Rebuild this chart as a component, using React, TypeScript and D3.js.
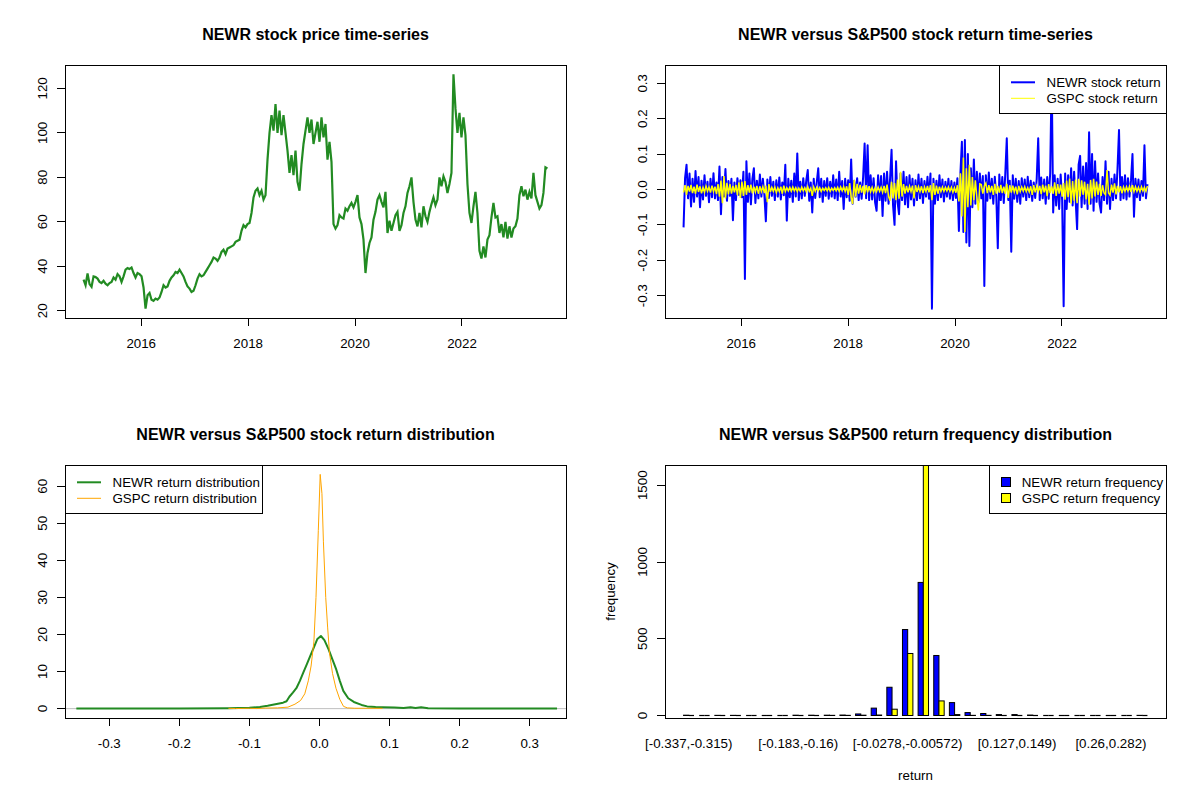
import React, { useRef, useEffect } from 'react';
import * as d3 from 'd3';

const FONT = '"Liberation Sans", Arial, Helvetica, sans-serif';
const PANEL_W = 600;
const PANEL_H = 400;
const box = { left: 65, right: 566, top: 65, bottom: 318 };

// first and last trading day of the daily series
const seriesStart = new Date(2014, 11, 3);
const seriesEnd = new Date(2023, 7, 8);
const yearTicks = [2016, 2018, 2020, 2022];

// NEWR closing price, every 2 px
const newrPrice = [
  34.0, 31.5, 36.8, 32.0, 30.8, 35.5, 35.2, 34.5, 33.0, 32.5,
  33.5, 32.2, 31.5, 32.5, 33.0, 35.0, 34.0, 36.5, 35.5, 33.0,
  35.5, 38.5, 39.2, 38.8, 39.5, 37.0, 35.0, 37.0, 36.5, 35.5,
  30.5, 21.0, 27.0, 28.0, 25.0, 24.5, 25.5, 25.0, 26.0, 28.5,
  31.5, 30.5, 31.0, 33.5, 35.0, 36.0, 37.5, 37.0, 38.5, 37.0,
  35.5, 33.0, 31.0, 30.0, 28.5, 29.0, 31.5, 34.5, 36.5, 35.5,
  36.0, 37.5, 39.0, 40.5, 42.0, 44.0, 43.5, 42.5, 44.0, 46.5,
  47.5, 45.5, 48.0, 48.5, 49.0, 49.5, 51.0, 51.5, 52.0, 56.0,
  58.5, 57.5, 59.0, 59.5, 64.0, 71.0, 74.0, 75.0, 72.0, 74.0,
  70.0, 72.0, 88.0, 100.0, 108.0, 101.0, 113.0, 100.0, 110.0, 99.0,
  108.0, 100.0, 92.0, 82.0, 90.0, 81.0, 92.0, 78.0, 74.0, 86.0,
  95.0, 101.0, 107.0, 100.0, 106.0, 95.0, 100.0,
  105.0, 96.0, 107.0, 98.0, 104.0, 88.0, 96.0, 87.0, 59.0, 57.0,
  58.5, 63.0, 62.0, 61.5, 66.0, 65.0, 67.0, 68.5, 66.5, 69.0,
  72.0, 62.0, 59.0, 52.0, 37.0, 46.0, 50.5, 53.0, 61.0, 64.5,
  70.0, 72.0, 69.0, 66.5, 73.5, 55.0, 60.5, 56.0, 59.5, 63.0,
  64.5, 56.0, 58.5, 64.0, 67.0, 73.0, 76.0, 80.0, 69.0, 61.0,
  58.0, 64.0, 57.5, 67.0, 62.5, 60.0, 64.5, 68.0, 71.0, 67.5,
  70.0, 80.0, 76.0, 80.5, 78.0, 73.0, 77.0, 82.0, 126.3, 111.0,
  100.0, 109.0, 98.0, 107.0, 99.0, 77.0, 64.0, 59.5, 67.0, 73.5,
  64.0, 47.0, 43.5, 49.0, 44.0, 52.0, 54.0, 62.0, 68.5, 62.0,
  62.5, 55.0, 59.0, 53.0, 60.0, 52.5, 58.0, 53.0, 57.0, 58.0,
  61.5, 72.0, 76.0, 71.5, 74.5, 70.0, 73.5, 70.5, 82.0, 72.0,
  69.0, 66.0, 67.5, 73.0, 84.5, 84.0,
];

// daily returns in percent, every 1.5 px
const newrReturnPct = [
  -10.7, 3.2, 7.0, -2.5, 4.5, -4.8, 3.0, -3.5, 5.2, -2.0,
  3.5, -5.0, 2.5, -2.8, 4.0, -1.8, 2.2, -3.6, 3.0, -2.2,
  4.6, -2.5, 2.0, -3.0, 6.5, -7.0, 3.5, -2.0, 5.8, -3.2,
  2.4, -1.8, 3.0, -8.7, 2.0, -3.0, 3.2, -1.5, 2.6, -2.2,
  5.0, -25.3, 8.0, -3.5, 4.5, -4.2, 3.0, 6.0, -3.8, 2.5,
  -2.5, 4.2, -2.0, 3.0, -1.5, -9.0, 2.8, -2.4, 3.5, -1.8,
  2.2, -3.0, 2.6, -2.0, 3.4, -2.8, 2.0, -1.6, 7.0, -8.8,
  3.0, -2.2, 2.5, -3.5, 4.5, -2.0, 10.2, -3.0, 2.2, -2.5,
  3.2, -1.8, 2.6, 5.5, -3.2, 2.0, -6.5, 3.0, -2.4, 2.0,
  6.0, -2.2, 3.0, -3.5, 2.4, -1.8, 3.2, -2.6, 2.2, -2.0,
  4.0, -2.5, 2.8, -3.0, 5.0, -2.0, 2.4, -5.5, 3.0, -2.2,
  2.6, -3.2, 8.5, -4.0, 2.5, -2.0, 3.2, -3.0, 2.0, -2.6,
  3.5, 13.0, -2.5, 12.5, -3.0, 4.0, -2.8, 3.2, -3.6, -6.0,
  4.0, -3.0, 3.8, -7.5, 4.5, -3.2, 5.0, -4.0, 3.0, 11.2,
  -4.5, -10.0, 8.0, -3.5, -7.0, 4.5, -3.0, 5.0, -4.2, 3.5,
  -5.0, 4.0, -2.8, 3.0, -4.5, 2.6, -3.0, 4.2, -2.5, 3.0,
  -3.8, 2.4, -2.0, 3.6, -2.6, 4.5, -33.67, 3.0, -4.0, 2.5,
  -3.0, 4.0, -2.2, 2.8, -3.4, 2.2, -2.0, 3.0, -2.6, 2.4,
  -3.0, 2.0, -2.4, 3.2, -11.7, 4.5, 13.5, -12.0, 14.0, -15.0,
  10.0, -16.0, 6.0, -5.0, 8.5, -4.0, 5.0, -3.6, 4.5, -2.5,
  3.8, -27.3, 4.0, -3.2, 4.8, -2.5, 3.0, -4.0, 3.6, -2.0,
  -16.6, 4.2, -3.0, 3.5, -3.8, 4.5, 14.5, -3.0, 2.5, -17.6,
  4.0, -2.6, 3.0, -3.5, 2.4, -4.0, 3.2, -2.0, 2.8, -3.0,
  3.6, -2.2, 2.5, -3.2, 2.0, -2.4, 3.0, 14.5, -3.0, 3.4,
  -2.5, 2.8, -4.0, 3.5, -2.6, 4.6, 32.53, -6.5, 4.0, -4.5,
  3.0, -5.5, 4.2, -3.0, -33.0, 4.5, -5.5, 4.0, -3.5, 6.0,
  -4.5, 5.0, -3.0, -11.2, 7.0, 9.5, -5.0, 6.5, -4.0, 7.5,
  -5.5, 16.2, -4.0, 10.0, -6.0, 8.0, -3.5, 4.5, -4.0, -6.5,
  3.5, -3.0, 8.0, -4.0, 5.0, -5.5, 3.0, -3.0, 4.2, -2.5,
  6.0, 16.8, -3.0, 3.5, -2.5, 4.0, -2.8, 3.2, -2.0, 2.5,
  10.0, -7.7, 3.0, -2.2, 2.8, -3.0, 2.4, -1.8, 12.5, -2.5,
  1.5,
];

const gspcReturnPct = [
  -0.8, 1.2, -1.5, 1.0, -0.6, 1.3, -1.0, 0.8, -1.2, 1.4,
  -0.7, 0.9, -1.1, 0.6, -0.8, 1.0, -0.5, 0.7, -0.9, 1.1,
  -0.6, 0.8, -1.3, 1.5, -2.0, 2.5, -3.9, 3.8, -2.5, 1.9,
  -1.4, 1.6, -1.2, 1.0, -0.8, 1.3, -1.6, 2.0, -2.4, 2.2,
  -1.8, 2.4, -1.5, 1.2, -0.9, 1.4, -1.1, 0.8, -0.7, 1.0,
  -1.2, 0.9, -0.6, 0.8, -1.0, 1.1, -3.6, 1.5, -0.7, 0.6,
  -0.5, 0.7, -0.9, 0.5, -0.6, 0.8, -1.2, 1.1, -0.6, 0.5,
  -0.4, 0.6, -0.5, 0.7, -0.4, 0.5, -0.6, 0.4, -0.5, 0.7,
  -0.4, 0.5, -0.6, 0.8, -0.5, 0.4, -1.8, 0.7, -0.5, 0.6,
  -0.4, 0.5, -0.6, 0.4, -0.3, 0.5, -0.4, 0.6, -0.5, 0.4,
  -0.3, 0.5, -0.4, 0.6, -0.5, 0.7, -0.4, 0.8, -0.6, 0.9,
  -1.5, 1.8, -2.2, -4.1, 2.7, -2.0, 1.6, -1.2, 1.3, -0.9,
  1.0, -1.4, 1.2, -0.8, 0.9, -0.7, 0.6, -0.8, 0.5, -0.6,
  0.7, -0.5, 0.6, -0.8, 1.0, -1.0, 1.4, -2.0, -3.2, 2.2,
  -2.5, 1.8, -3.0, 2.8, -2.6, 5.0, -2.0, 1.5, -1.2, 1.0,
  -0.8, 0.9, -0.6, 1.1, -2.5, 1.2, -0.7, 0.8, -0.6, 0.9,
  -1.0, 0.7, -0.6, 1.0, -0.8, 1.2, -3.0, 1.8, -1.5, 1.1,
  -1.2, 0.8, -0.6, 0.7, -0.5, 0.6, -0.4, 0.7, -0.5, 0.6,
  -0.8, 0.5, -0.9, 1.2, -3.4, 4.6, -7.6, 9.0, -12.0, 6.0,
  -5.0, 7.0, -4.5, 3.5, -3.0, 2.6, -2.2, -5.9, 1.6, 1.4,
  -1.2, 1.0, 1.8, -1.0, 1.2, -0.8, 1.0, -1.5, 1.6, -1.2,
  1.0, -0.9, 1.3, -1.0, 0.8, -1.2, 1.6, -2.4, 1.2, -0.9,
  1.1, -0.7, 0.8, -1.4, 1.0, -0.6, 0.7, -0.5, 0.8, -0.6,
  0.5, -0.7, 0.9, -1.5, 1.2, -0.8, 0.9, -0.6, 1.0, -1.3,
  1.4, -0.8, 1.1, -1.9, 1.5, -1.0, 0.9, -1.2, 2.0, -1.8,
  1.5, -1.2, 1.4, -2.0, 1.8, -2.9, 2.5, -2.2, 3.1, -4.0,
  2.4, -3.2, 2.8, -3.9, 3.0, -2.0, 2.6, -1.5, 2.2, -2.8,
  1.6, -4.3, 2.7, -2.5, 3.0, -2.0, 2.2, -1.5, 1.6, -1.8,
  1.2, -1.0, -1.5, 5.5, -1.0, -1.6, 1.4, -0.9, 1.7, -1.4,
  1.0, -0.8, 0.9, -1.1, 0.7, -0.6, 0.8, -0.5, 0.9, -0.7,
  1.2, -0.6, 0.8, -0.5, 0.6, -0.7, 0.8, -0.4, 0.6, -0.5,
  1.0,
];

// kernel density estimates: [return, density]
const newrDensity: [number, number][] = [
  [-0.347, 0.05], [-0.2, 0.05], [-0.13, 0.12], [-0.1, 0.25], [-0.085, 0.45],
  [-0.074, 0.8], [-0.063, 1.2], [-0.052, 1.6], [-0.047, 2.0], [-0.043, 3.2],
  [-0.038, 4.3], [-0.033, 5.5], [-0.028, 7.5], [-0.023, 9.8], [-0.018, 12.0],
  [-0.013, 14.3], [-0.008, 16.5], [-0.003, 18.8], [0.002, 19.6], [0.007, 18.5],
  [0.013, 16.0], [0.018, 13.5], [0.024, 10.5], [0.029, 7.5], [0.034, 4.8],
  [0.041, 2.8], [0.049, 1.8], [0.06, 1.0], [0.068, 0.6], [0.08, 0.45],
  [0.09, 0.4], [0.107, 0.3], [0.12, 0.15], [0.13, 0.35], [0.137, 0.2],
  [0.145, 0.35], [0.155, 0.1], [0.2, 0.05], [0.339, 0.05],
];
const gspcDensity: [number, number][] = [
  [-0.13, 0.08], [-0.12, 0.02], [-0.1, 0.1], [-0.09, 0.02], [-0.077, 0.15],
  [-0.06, 0.2], [-0.045, 0.4], [-0.035, 1.2], [-0.027, 2.2], [-0.021, 4.0],
  [-0.016, 7.5], [-0.012, 11.5], [-0.008, 18.0], [-0.005, 30.0], [-0.0017, 48.0],
  [0.001, 63.2], [0.0035, 58.0], [0.0056, 45.0], [0.0089, 30.0], [0.0116, 22.0],
  [0.0143, 15.0], [0.0186, 9.5], [0.0235, 5.5], [0.029, 2.5], [0.0343, 0.6],
  [0.0398, 0.2], [0.05, 0.1], [0.068, 0.1], [0.09, 0.08],
];

// return frequency per bin (30 bins of width ~0.0221 from -0.337)
const newrFreq = [2, 0, 1, 1, 0, 0, 0, 2, 2, 2, 3, 10, 48, 184, 560, 867, 391, 84, 19, 13, 6, 6, 3, 0, 0, 0, 0, 0, 0, 1];
const gspcFreq = [0, 0, 0, 0, 0, 0, 0, 0, 0, 1, 1, 2, 3, 41, 404, 1632, 95, 6, 1, 1, 0, 0, 0, 0, 0, 0, 0, 0, 0, 0];
const histLabelBins = [0, 7, 14, 21, 27];
const histLabels = ['[-0.337,-0.315)', '[-0.183,-0.16)', '[-0.0278,-0.00572)', '[0.127,0.149)', '[0.26,0.282)'];

const GREEN = '#228B22';
const BLUE = '#0000FF';
const YELLOW = '#FFFF00';
const ORANGE = '#FFA500';
const GREY = '#BEBEBE';

// R prints plain hyphen minus signs
const fmt1 = (v: number) => d3.format('.1f')(v).replace('\u2212', '-');

function rPad(lo: number, hi: number): [number, number] {
  const d = (hi - lo) * 0.04;
  return [lo - d, hi + d];
}

function seriesDates(n: number): Date[] {
  const t0 = seriesStart.getTime();
  const t1 = seriesEnd.getTime();
  return d3.range(n).map(i => new Date(t0 + ((t1 - t0) * i) / (n - 1)));
}

function addPanel(root: any, col: number, row: number, title: string, id: string) {
  const g = root.append('g').attr('transform', `translate(${col * PANEL_W},${row * PANEL_H})`);
  g.append('text')
    .attr('x', (box.left + box.right) / 2)
    .attr('y', 40)
    .attr('text-anchor', 'middle')
    .attr('font-size', 16)
    .attr('font-weight', 'bold')
    .text(title);
  g.append('clipPath')
    .attr('id', id)
    .append('rect')
    .attr('x', box.left)
    .attr('y', box.top)
    .attr('width', box.right - box.left)
    .attr('height', box.bottom - box.top);
  const plot = g.append('g').attr('clip-path', `url(#${id})`);
  return { g, plot };
}

function drawBox(g: any) {
  g.append('rect')
    .attr('x', box.left)
    .attr('y', box.top)
    .attr('width', box.right - box.left)
    .attr('height', box.bottom - box.top)
    .attr('fill', 'none')
    .attr('stroke', '#000')
    .attr('shape-rendering', 'crispEdges');
}

// R style axis: line only between first and last tick
function bottomAxis(g: any, xs: number[], labels: string[], ticks = true) {
  if (ticks) {
    g.append('line')
      .attr('x1', xs[0]).attr('x2', xs[xs.length - 1])
      .attr('y1', box.bottom).attr('y2', box.bottom)
      .attr('stroke', '#000').attr('shape-rendering', 'crispEdges');
  }
  xs.forEach((x, i) => {
    if (ticks) {
      g.append('line')
        .attr('x1', x).attr('x2', x)
        .attr('y1', box.bottom).attr('y2', box.bottom + 8)
        .attr('stroke', '#000').attr('shape-rendering', 'crispEdges');
    }
    g.append('text')
      .attr('x', x)
      .attr('y', box.bottom + 29.5)
      .attr('text-anchor', 'middle')
      .attr('font-size', 13.33)
      .text(labels[i]);
  });
}

function leftAxis(g: any, ys: number[], labels: string[]) {
  g.append('line')
    .attr('x1', box.left).attr('x2', box.left)
    .attr('y1', ys[0]).attr('y2', ys[ys.length - 1])
    .attr('stroke', '#000').attr('shape-rendering', 'crispEdges');
  ys.forEach((y, i) => {
    g.append('line')
      .attr('x1', box.left - 8).attr('x2', box.left)
      .attr('y1', y).attr('y2', y)
      .attr('stroke', '#000').attr('shape-rendering', 'crispEdges');
    g.append('text')
      .attr('transform', `translate(${box.left - 18.3},${y}) rotate(-90)`)
      .attr('text-anchor', 'middle')
      .attr('font-size', 13.33)
      .text(labels[i]);
  });
}

function drawLegend(
  g: any,
  left: number,
  right: number,
  items: { label: string; color: string; width: number }[],
  kind: 'line' | 'fill',
) {
  g.append('rect')
    .attr('x', left)
    .attr('y', box.top)
    .attr('width', right - left)
    .attr('height', 48)
    .attr('fill', '#fff')
    .attr('stroke', '#000')
    .attr('shape-rendering', 'crispEdges');
  items.forEach((it, i) => {
    const cy = box.top + 17.3 + i * 16;
    let tx = left + 47.5;
    if (kind === 'line') {
      g.append('line')
        .attr('x1', left + 12).attr('x2', left + 36)
        .attr('y1', cy).attr('y2', cy)
        .attr('stroke', it.color).attr('stroke-width', it.width);
    } else {
      g.append('rect')
        .attr('x', left + 12.5).attr('y', cy - 4.5)
        .attr('width', 9).attr('height', 9)
        .attr('fill', it.color).attr('stroke', '#000')
        .attr('shape-rendering', 'crispEdges');
      tx = left + 32.7;
    }
    g.append('text')
      .attr('x', tx)
      .attr('y', cy + 4.7)
      .attr('font-size', 13.33)
      .text(it.label);
  });
}

const App: React.FC = () => {
  const svgRef = useRef<SVGSVGElement>(null);

  useEffect(() => {
    if (!svgRef.current) return;
    const svg = d3.select(svgRef.current);
    svg.selectAll('*').remove();
    svg.append('rect').attr('width', 1200).attr('height', 800).attr('fill', '#fff');
    const root = svg.append('g').attr('font-family', FONT).attr('fill', '#000');

    const yearDates = yearTicks.map(y => new Date(y, 0, 1));
    const [tLo, tHi] = rPad(seriesStart.getTime(), seriesEnd.getTime());
    const xTime = d3.scaleTime().domain([new Date(tLo), new Date(tHi)]).range([box.left, box.right]);

    // ---- Panel 1: price
    {
      const { g, plot } = addPanel(root, 0, 0, 'NEWR stock price time-series', 'clip-price');
      const dates = seriesDates(newrPrice.length);
      const ext = d3.extent(newrPrice) as [number, number];
      const y = d3.scaleLinear().domain(rPad(ext[0], ext[1])).range([box.bottom, box.top]);
      const line = d3.line<number>()
        .x((_, i) => xTime(dates[i]))
        .y(d => y(d));
      plot.append('path')
        .attr('d', line(newrPrice))
        .attr('fill', 'none')
        .attr('stroke', GREEN)
        .attr('stroke-width', 2.2)
        .attr('stroke-linejoin', 'miter');
      drawBox(g);
      bottomAxis(g, yearDates.map(d => xTime(d)), yearTicks.map(String));
      const ticks = y.ticks(5);
      leftAxis(g, ticks.map(t => y(t)), ticks.map(String));
    }

    // ---- Panel 2: returns
    {
      const { g, plot } = addPanel(root, 1, 0, 'NEWR versus S&P500 stock return time-series', 'clip-ret');
      const newr = newrReturnPct.map(v => v / 100);
      const gspc = gspcReturnPct.map(v => v / 100);
      const dates = seriesDates(newr.length);
      const ext = d3.extent([...newr, ...gspc]) as [number, number];
      const y = d3.scaleLinear().domain(rPad(ext[0], ext[1])).range([box.bottom, box.top]);
      const line = d3.line<number>()
        .x((_, i) => xTime(dates[i]))
        .y(d => y(d));
      plot.append('path')
        .attr('d', line(newr))
        .attr('fill', 'none')
        .attr('stroke', BLUE)
        .attr('stroke-width', 2)
        .attr('stroke-linejoin', 'round');
      plot.append('path')
        .attr('d', line(gspc))
        .attr('fill', 'none')
        .attr('stroke', YELLOW)
        .attr('stroke-width', 1.5);
      drawBox(g);
      bottomAxis(g, yearDates.map(d => xTime(d)), yearTicks.map(String));
      const ticks = y.ticks(7);
      leftAxis(g, ticks.map(t => y(t)), ticks.map(fmt1));
      drawLegend(g, 399, box.right, [
        { label: 'NEWR stock return', color: BLUE, width: 2 },
        { label: 'GSPC stock return', color: YELLOW, width: 1 },
      ], 'line');
    }

    // ---- Panel 3: density
    {
      const { g, plot } = addPanel(root, 0, 1, 'NEWR versus S&P500 stock return distribution', 'clip-dens');
      const rExt = d3.extent(newrReturnPct) as [number, number];
      const x = d3.scaleLinear().domain(rPad(rExt[0] / 100, rExt[1] / 100)).range([box.left, box.right]);
      const yMax = d3.max([...newrDensity, ...gspcDensity], d => d[1]) as number;
      const y = d3.scaleLinear().domain(rPad(0, yMax)).range([box.bottom, box.top]);
      plot.append('line')
        .attr('x1', box.left).attr('x2', box.right)
        .attr('y1', y(0)).attr('y2', y(0))
        .attr('stroke', GREY).attr('stroke-width', 1);
      const line = d3.line<[number, number]>()
        .x(d => x(d[0]))
        .y(d => y(d[1]));
      plot.append('path')
        .attr('d', line(newrDensity))
        .attr('fill', 'none')
        .attr('stroke', GREEN)
        .attr('stroke-width', 2)
        .attr('stroke-linejoin', 'round');
      plot.append('path')
        .attr('d', line(gspcDensity))
        .attr('fill', 'none')
        .attr('stroke', ORANGE)
        .attr('stroke-width', 1);
      drawBox(g);
      const xt = x.ticks(7);
      bottomAxis(g, xt.map(t => x(t)), xt.map(fmt1));
      const yt = y.ticks(7);
      leftAxis(g, yt.map(t => y(t)), yt.map(String));
      drawLegend(g, box.left, 262.6, [
        { label: 'NEWR return distribution', color: GREEN, width: 2 },
        { label: 'GSPC return distribution', color: ORANGE, width: 1 },
      ], 'line');
    }

    // ---- Panel 4: frequency bars
    {
      const { g, plot } = addPanel(root, 1, 1, 'NEWR versus S&P500 return frequency distribution', 'clip-hist');
      const n = newrFreq.length;
      const maxF = d3.max([...newrFreq, ...gspcFreq]) as number;
      const x = d3.scaleLinear().domain(rPad(1, 3 * n)).range([box.left, box.right]);
      const y = d3.scaleLinear().domain([-0.01 * maxF, maxF]).range([box.bottom, box.top]);
      [newrFreq, gspcFreq].forEach((arr, s) => {
        const fill = s === 0 ? BLUE : YELLOW;
        arr.forEach((v, gi) => {
          const xl = x(1 + 3 * gi + s);
          const xr = x(2 + 3 * gi + s);
          if (v > 0) {
            plot.append('rect')
              .attr('x', xl).attr('y', y(v))
              .attr('width', xr - xl).attr('height', y(0) - y(v))
              .attr('fill', fill).attr('stroke', '#000').attr('stroke-width', 1);
          } else {
            plot.append('line')
              .attr('x1', xl).attr('x2', xr)
              .attr('y1', y(0)).attr('y2', y(0))
              .attr('stroke', '#000').attr('stroke-width', 1.2);
          }
        });
      });
      drawBox(g);
      bottomAxis(g, histLabelBins.map(b => x(2 + 3 * b)), histLabels, false);
      const yt = y.ticks(4).filter(t => t >= 0);
      leftAxis(g, yt.map(t => y(t)), yt.map(String));
      g.append('text')
        .attr('x', (box.left + box.right) / 2)
        .attr('y', 380)
        .attr('text-anchor', 'middle')
        .attr('font-size', 13.33)
        .text('return');
      g.append('text')
        .attr('transform', `translate(14.6,${(box.top + box.bottom) / 2}) rotate(-90)`)
        .attr('text-anchor', 'middle')
        .attr('font-size', 13.33)
        .text('frequency');
      drawLegend(g, 389, box.right, [
        { label: 'NEWR return frequency', color: BLUE, width: 0 },
        { label: 'GSPC return frequency', color: YELLOW, width: 0 },
      ], 'fill');
    }
  }, []);

  return (
    <svg
      ref={svgRef}
      width={1200}
      height={800}
      style={{ position: 'absolute', left: 0, top: 0, display: 'block' }}
    />
  );
};

export default App;
